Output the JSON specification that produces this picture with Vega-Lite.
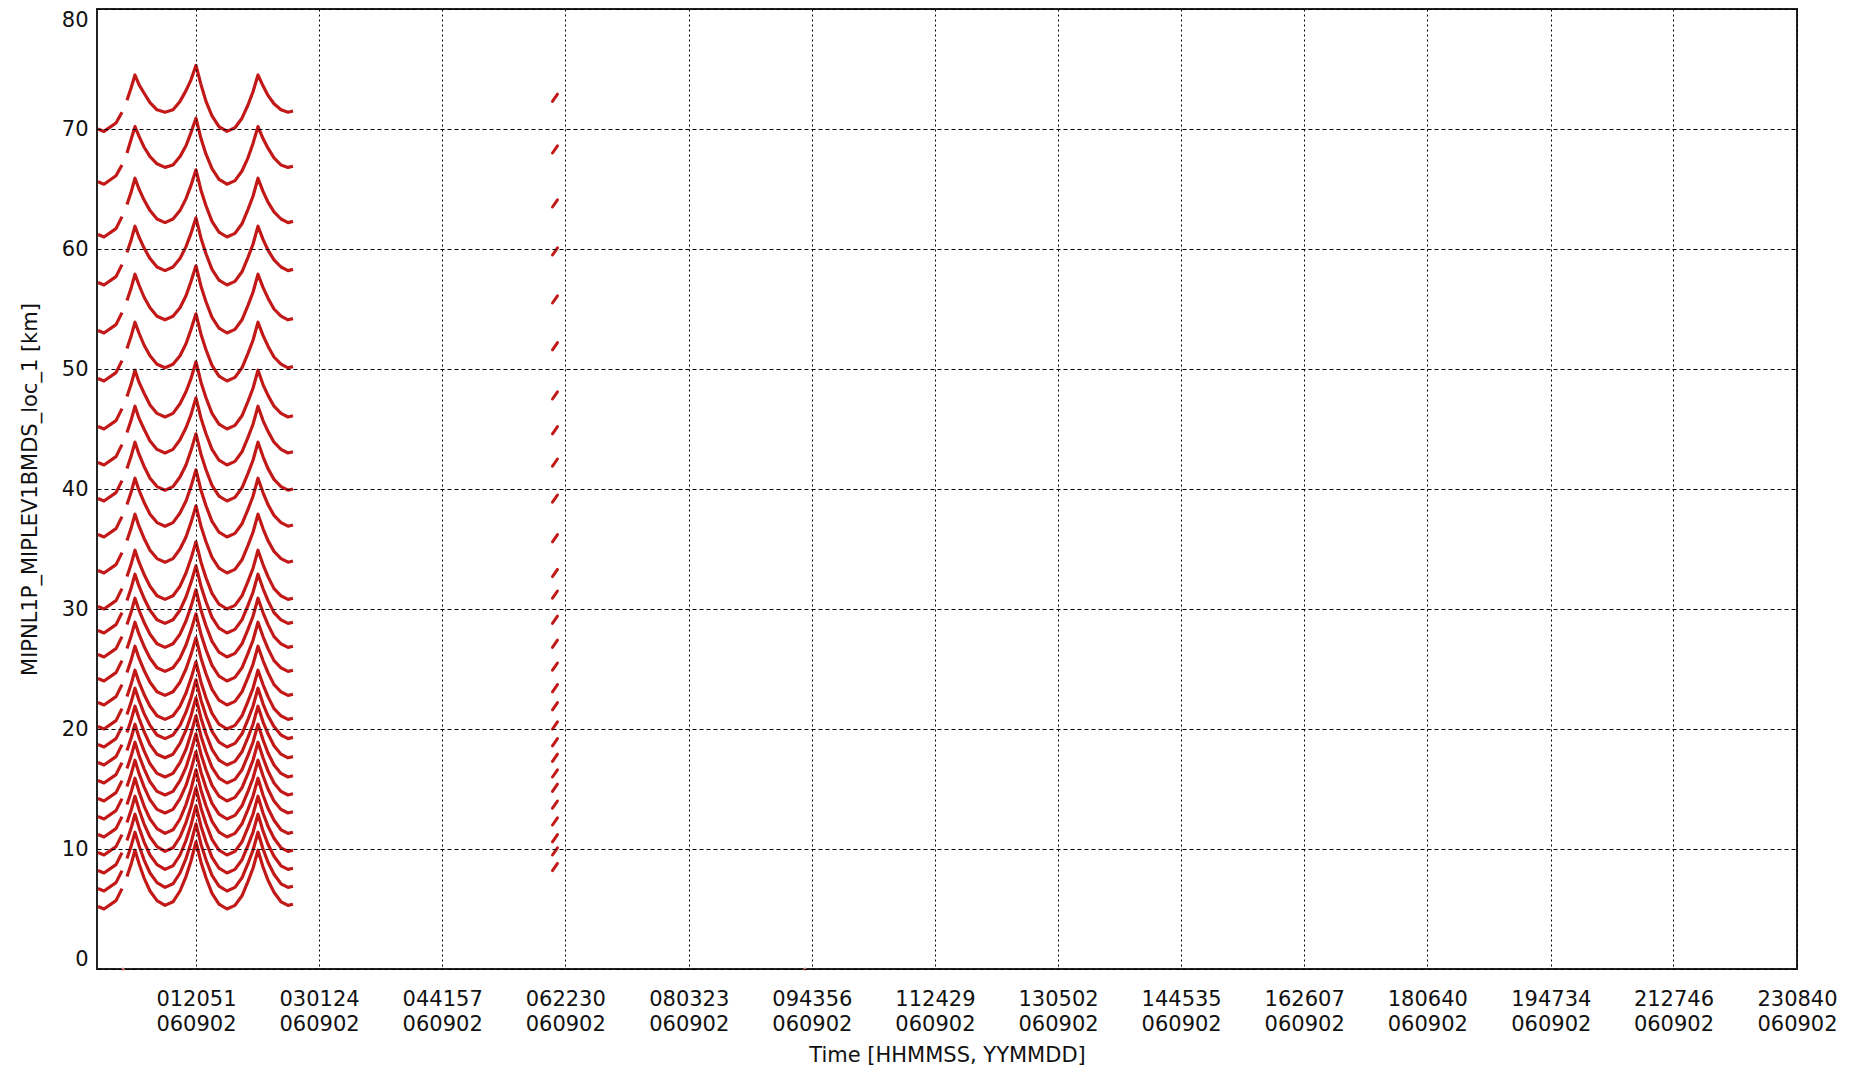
{
"$schema": "https://vega.github.io/schema/vega-lite/v6.json",
"width": 1700, "height": 960,
"autosize": "none",
"padding": {"left": 97, "top": 9, "right": 54, "bottom": 110},
"background": "white",
"config": {"view": {"stroke": "#222", "strokeWidth": 2}, "font": "DejaVu Sans"},
"datasets": {
"curves": [
{"k":1,"g":1,"t":49,"h":70.0},{"k":1,"g":1,"t":343,"h":69.8},{"k":1,"g":1,"t":931,"h":70.5},{"k":1,"g":1,"t":1225,"h":71.4},
{"k":1,"t":1470,"h":72.4},{"k":1,"t":1666,"h":73.4},{"k":1,"t":1862,"h":74.5},{"k":1,"t":2058,"h":73.7},{"k":1,"t":2303,"h":73.0},{"k":1,"t":2598,"h":72.2},{"k":1,"t":2941,"h":71.6},{"k":1,"t":3333,"h":71.4},{"k":1,"t":3725,"h":71.6},{"k":1,"t":4068,"h":72.3},{"k":1,"t":4362,"h":73.2},{"k":1,"t":4607,"h":74.1},{"k":1,"t":4851,"h":75.3},{"k":1,"t":5097,"h":73.7},{"k":1,"t":5342,"h":72.3},{"k":1,"t":5636,"h":71.1},{"k":1,"t":5979,"h":70.2},{"k":1,"t":6371,"h":69.8},{"k":1,"t":6763,"h":70.1},{"k":1,"t":7106,"h":70.9},{"k":1,"t":7401,"h":72.0},{"k":1,"t":7646,"h":73.1},{"k":1,"t":7891,"h":74.5},{"k":1,"t":8136,"h":73.6},{"k":1,"t":8381,"h":72.8},{"k":1,"t":8675,"h":72.1},{"k":1,"t":9018,"h":71.6},{"k":1,"t":9361,"h":71.4},{"k":1,"t":9606,"h":71.5},
{"k":2,"g":1,"t":49,"h":65.6},{"k":2,"g":1,"t":343,"h":65.4},{"k":2,"g":1,"t":931,"h":66.1},{"k":2,"g":1,"t":1225,"h":67.0},
{"k":2,"t":1470,"h":68.0},{"k":2,"t":1666,"h":69.1},{"k":2,"t":1862,"h":70.2},{"k":2,"t":2058,"h":69.4},{"k":2,"t":2303,"h":68.5},{"k":2,"t":2598,"h":67.7},{"k":2,"t":2941,"h":67.1},{"k":2,"t":3333,"h":66.8},{"k":2,"t":3725,"h":67.0},{"k":2,"t":4068,"h":67.7},{"k":2,"t":4362,"h":68.6},{"k":2,"t":4607,"h":69.7},{"k":2,"t":4851,"h":70.9},{"k":2,"t":5097,"h":69.2},{"k":2,"t":5342,"h":67.9},{"k":2,"t":5636,"h":66.7},{"k":2,"t":5979,"h":65.8},{"k":2,"t":6371,"h":65.4},{"k":2,"t":6763,"h":65.7},{"k":2,"t":7106,"h":66.5},{"k":2,"t":7401,"h":67.6},{"k":2,"t":7646,"h":68.8},{"k":2,"t":7891,"h":70.2},{"k":2,"t":8136,"h":69.2},{"k":2,"t":8381,"h":68.4},{"k":2,"t":8675,"h":67.6},{"k":2,"t":9018,"h":67.0},{"k":2,"t":9361,"h":66.8},{"k":2,"t":9606,"h":66.9},
{"k":3,"g":1,"t":49,"h":61.2},{"k":3,"g":1,"t":343,"h":61.0},{"k":3,"g":1,"t":931,"h":61.7},{"k":3,"g":1,"t":1225,"h":62.7},
{"k":3,"t":1470,"h":63.7},{"k":3,"t":1666,"h":64.7},{"k":3,"t":1862,"h":65.9},{"k":3,"t":2058,"h":65.0},{"k":3,"t":2303,"h":64.1},{"k":3,"t":2598,"h":63.2},{"k":3,"t":2941,"h":62.5},{"k":3,"t":3333,"h":62.2},{"k":3,"t":3725,"h":62.5},{"k":3,"t":4068,"h":63.2},{"k":3,"t":4362,"h":64.2},{"k":3,"t":4607,"h":65.3},{"k":3,"t":4851,"h":66.6},{"k":3,"t":5097,"h":64.9},{"k":3,"t":5342,"h":63.6},{"k":3,"t":5636,"h":62.3},{"k":3,"t":5979,"h":61.4},{"k":3,"t":6371,"h":61.0},{"k":3,"t":6763,"h":61.3},{"k":3,"t":7106,"h":62.1},{"k":3,"t":7401,"h":63.3},{"k":3,"t":7646,"h":64.4},{"k":3,"t":7891,"h":65.9},{"k":3,"t":8136,"h":64.8},{"k":3,"t":8381,"h":63.9},{"k":3,"t":8675,"h":63.1},{"k":3,"t":9018,"h":62.5},{"k":3,"t":9361,"h":62.2},{"k":3,"t":9606,"h":62.3},
{"k":4,"g":1,"t":49,"h":57.2},{"k":4,"g":1,"t":343,"h":57.0},{"k":4,"g":1,"t":931,"h":57.7},{"k":4,"g":1,"t":1225,"h":58.7},
{"k":4,"t":1470,"h":59.7},{"k":4,"t":1666,"h":60.7},{"k":4,"t":1862,"h":61.9},{"k":4,"t":2058,"h":61.0},{"k":4,"t":2303,"h":60.1},{"k":4,"t":2598,"h":59.2},{"k":4,"t":2941,"h":58.5},{"k":4,"t":3333,"h":58.2},{"k":4,"t":3725,"h":58.5},{"k":4,"t":4068,"h":59.2},{"k":4,"t":4362,"h":60.2},{"k":4,"t":4607,"h":61.3},{"k":4,"t":4851,"h":62.6},{"k":4,"t":5097,"h":60.9},{"k":4,"t":5342,"h":59.6},{"k":4,"t":5636,"h":58.3},{"k":4,"t":5979,"h":57.4},{"k":4,"t":6371,"h":57.0},{"k":4,"t":6763,"h":57.3},{"k":4,"t":7106,"h":58.1},{"k":4,"t":7401,"h":59.3},{"k":4,"t":7646,"h":60.4},{"k":4,"t":7891,"h":61.9},{"k":4,"t":8136,"h":60.8},{"k":4,"t":8381,"h":59.9},{"k":4,"t":8675,"h":59.1},{"k":4,"t":9018,"h":58.5},{"k":4,"t":9361,"h":58.2},{"k":4,"t":9606,"h":58.3},
{"k":5,"g":1,"t":49,"h":53.2},{"k":5,"g":1,"t":343,"h":53.0},{"k":5,"g":1,"t":931,"h":53.7},{"k":5,"g":1,"t":1225,"h":54.7},
{"k":5,"t":1470,"h":55.7},{"k":5,"t":1666,"h":56.7},{"k":5,"t":1862,"h":57.9},{"k":5,"t":2058,"h":57.0},{"k":5,"t":2303,"h":56.0},{"k":5,"t":2598,"h":55.1},{"k":5,"t":2941,"h":54.4},{"k":5,"t":3333,"h":54.1},{"k":5,"t":3725,"h":54.4},{"k":5,"t":4068,"h":55.1},{"k":5,"t":4362,"h":56.1},{"k":5,"t":4607,"h":57.3},{"k":5,"t":4851,"h":58.6},{"k":5,"t":5097,"h":56.9},{"k":5,"t":5342,"h":55.6},{"k":5,"t":5636,"h":54.3},{"k":5,"t":5979,"h":53.4},{"k":5,"t":6371,"h":53.0},{"k":5,"t":6763,"h":53.3},{"k":5,"t":7106,"h":54.1},{"k":5,"t":7401,"h":55.3},{"k":5,"t":7646,"h":56.4},{"k":5,"t":7891,"h":57.9},{"k":5,"t":8136,"h":56.8},{"k":5,"t":8381,"h":55.9},{"k":5,"t":8675,"h":55.0},{"k":5,"t":9018,"h":54.4},{"k":5,"t":9361,"h":54.1},{"k":5,"t":9606,"h":54.2},
{"k":6,"g":1,"t":49,"h":49.2},{"k":6,"g":1,"t":343,"h":49.0},{"k":6,"g":1,"t":931,"h":49.7},{"k":6,"g":1,"t":1225,"h":50.7},
{"k":6,"t":1470,"h":51.7},{"k":6,"t":1666,"h":52.7},{"k":6,"t":1862,"h":53.9},{"k":6,"t":2058,"h":53.0},{"k":6,"t":2303,"h":52.0},{"k":6,"t":2598,"h":51.1},{"k":6,"t":2941,"h":50.4},{"k":6,"t":3333,"h":50.1},{"k":6,"t":3725,"h":50.4},{"k":6,"t":4068,"h":51.1},{"k":6,"t":4362,"h":52.1},{"k":6,"t":4607,"h":53.3},{"k":6,"t":4851,"h":54.6},{"k":6,"t":5097,"h":52.9},{"k":6,"t":5342,"h":51.6},{"k":6,"t":5636,"h":50.3},{"k":6,"t":5979,"h":49.4},{"k":6,"t":6371,"h":49.0},{"k":6,"t":6763,"h":49.3},{"k":6,"t":7106,"h":50.1},{"k":6,"t":7401,"h":51.3},{"k":6,"t":7646,"h":52.4},{"k":6,"t":7891,"h":53.9},{"k":6,"t":8136,"h":52.8},{"k":6,"t":8381,"h":51.9},{"k":6,"t":8675,"h":51.0},{"k":6,"t":9018,"h":50.4},{"k":6,"t":9361,"h":50.1},{"k":6,"t":9606,"h":50.2},
{"k":7,"g":1,"t":49,"h":45.2},{"k":7,"g":1,"t":343,"h":45.0},{"k":7,"g":1,"t":931,"h":45.7},{"k":7,"g":1,"t":1225,"h":46.7},
{"k":7,"t":1470,"h":47.7},{"k":7,"t":1666,"h":48.7},{"k":7,"t":1862,"h":49.9},{"k":7,"t":2058,"h":48.9},{"k":7,"t":2303,"h":48.0},{"k":7,"t":2598,"h":47.0},{"k":7,"t":2941,"h":46.3},{"k":7,"t":3333,"h":46.0},{"k":7,"t":3725,"h":46.3},{"k":7,"t":4068,"h":47.1},{"k":7,"t":4362,"h":48.1},{"k":7,"t":4607,"h":49.2},{"k":7,"t":4851,"h":50.6},{"k":7,"t":5097,"h":48.9},{"k":7,"t":5342,"h":47.6},{"k":7,"t":5636,"h":46.3},{"k":7,"t":5979,"h":45.4},{"k":7,"t":6371,"h":45.0},{"k":7,"t":6763,"h":45.3},{"k":7,"t":7106,"h":46.1},{"k":7,"t":7401,"h":47.3},{"k":7,"t":7646,"h":48.4},{"k":7,"t":7891,"h":49.9},{"k":7,"t":8136,"h":48.7},{"k":7,"t":8381,"h":47.8},{"k":7,"t":8675,"h":46.9},{"k":7,"t":9018,"h":46.3},{"k":7,"t":9361,"h":46.0},{"k":7,"t":9606,"h":46.1},
{"k":8,"g":1,"t":49,"h":42.2},{"k":8,"g":1,"t":343,"h":42.0},{"k":8,"g":1,"t":931,"h":42.7},{"k":8,"g":1,"t":1225,"h":43.7},
{"k":8,"t":1470,"h":44.7},{"k":8,"t":1666,"h":45.7},{"k":8,"t":1862,"h":46.9},{"k":8,"t":2058,"h":45.9},{"k":8,"t":2303,"h":45.0},{"k":8,"t":2598,"h":44.0},{"k":8,"t":2941,"h":43.3},{"k":8,"t":3333,"h":43.0},{"k":8,"t":3725,"h":43.3},{"k":8,"t":4068,"h":44.1},{"k":8,"t":4362,"h":45.1},{"k":8,"t":4607,"h":46.2},{"k":8,"t":4851,"h":47.6},{"k":8,"t":5097,"h":45.9},{"k":8,"t":5342,"h":44.6},{"k":8,"t":5636,"h":43.3},{"k":8,"t":5979,"h":42.4},{"k":8,"t":6371,"h":42.0},{"k":8,"t":6763,"h":42.3},{"k":8,"t":7106,"h":43.1},{"k":8,"t":7401,"h":44.3},{"k":8,"t":7646,"h":45.4},{"k":8,"t":7891,"h":46.9},{"k":8,"t":8136,"h":45.7},{"k":8,"t":8381,"h":44.8},{"k":8,"t":8675,"h":43.9},{"k":8,"t":9018,"h":43.3},{"k":8,"t":9361,"h":43.0},{"k":8,"t":9606,"h":43.1},
{"k":9,"g":1,"t":49,"h":39.2},{"k":9,"g":1,"t":343,"h":39.0},{"k":9,"g":1,"t":931,"h":39.7},{"k":9,"g":1,"t":1225,"h":40.7},
{"k":9,"t":1470,"h":41.7},{"k":9,"t":1666,"h":42.7},{"k":9,"t":1862,"h":43.9},{"k":9,"t":2058,"h":42.9},{"k":9,"t":2303,"h":41.9},{"k":9,"t":2598,"h":40.9},{"k":9,"t":2941,"h":40.2},{"k":9,"t":3333,"h":39.9},{"k":9,"t":3725,"h":40.2},{"k":9,"t":4068,"h":41.0},{"k":9,"t":4362,"h":42.0},{"k":9,"t":4607,"h":43.2},{"k":9,"t":4851,"h":44.6},{"k":9,"t":5097,"h":42.9},{"k":9,"t":5342,"h":41.6},{"k":9,"t":5636,"h":40.3},{"k":9,"t":5979,"h":39.4},{"k":9,"t":6371,"h":39.0},{"k":9,"t":6763,"h":39.3},{"k":9,"t":7106,"h":40.1},{"k":9,"t":7401,"h":41.3},{"k":9,"t":7646,"h":42.4},{"k":9,"t":7891,"h":43.9},{"k":9,"t":8136,"h":42.7},{"k":9,"t":8381,"h":41.7},{"k":9,"t":8675,"h":40.8},{"k":9,"t":9018,"h":40.2},{"k":9,"t":9361,"h":39.9},{"k":9,"t":9606,"h":40.0},
{"k":10,"g":1,"t":49,"h":36.2},{"k":10,"g":1,"t":343,"h":36.0},{"k":10,"g":1,"t":931,"h":36.7},{"k":10,"g":1,"t":1225,"h":37.7},
{"k":10,"t":1470,"h":38.7},{"k":10,"t":1666,"h":39.7},{"k":10,"t":1862,"h":40.9},{"k":10,"t":2058,"h":39.9},{"k":10,"t":2303,"h":38.9},{"k":10,"t":2598,"h":37.9},{"k":10,"t":2941,"h":37.2},{"k":10,"t":3333,"h":36.9},{"k":10,"t":3725,"h":37.2},{"k":10,"t":4068,"h":38.0},{"k":10,"t":4362,"h":39.0},{"k":10,"t":4607,"h":40.2},{"k":10,"t":4851,"h":41.6},{"k":10,"t":5097,"h":39.9},{"k":10,"t":5342,"h":38.6},{"k":10,"t":5636,"h":37.3},{"k":10,"t":5979,"h":36.4},{"k":10,"t":6371,"h":36.0},{"k":10,"t":6763,"h":36.3},{"k":10,"t":7106,"h":37.1},{"k":10,"t":7401,"h":38.3},{"k":10,"t":7646,"h":39.4},{"k":10,"t":7891,"h":40.9},{"k":10,"t":8136,"h":39.7},{"k":10,"t":8381,"h":38.7},{"k":10,"t":8675,"h":37.8},{"k":10,"t":9018,"h":37.2},{"k":10,"t":9361,"h":36.9},{"k":10,"t":9606,"h":37.0},
{"k":11,"g":1,"t":49,"h":33.2},{"k":11,"g":1,"t":343,"h":33.0},{"k":11,"g":1,"t":931,"h":33.7},{"k":11,"g":1,"t":1225,"h":34.7},
{"k":11,"t":1470,"h":35.7},{"k":11,"t":1666,"h":36.7},{"k":11,"t":1862,"h":37.9},{"k":11,"t":2058,"h":36.9},{"k":11,"t":2303,"h":35.9},{"k":11,"t":2598,"h":34.9},{"k":11,"t":2941,"h":34.2},{"k":11,"t":3333,"h":33.9},{"k":11,"t":3725,"h":34.2},{"k":11,"t":4068,"h":35.0},{"k":11,"t":4362,"h":36.0},{"k":11,"t":4607,"h":37.2},{"k":11,"t":4851,"h":38.6},{"k":11,"t":5097,"h":36.9},{"k":11,"t":5342,"h":35.6},{"k":11,"t":5636,"h":34.3},{"k":11,"t":5979,"h":33.4},{"k":11,"t":6371,"h":33.0},{"k":11,"t":6763,"h":33.3},{"k":11,"t":7106,"h":34.1},{"k":11,"t":7401,"h":35.3},{"k":11,"t":7646,"h":36.4},{"k":11,"t":7891,"h":37.9},{"k":11,"t":8136,"h":36.7},{"k":11,"t":8381,"h":35.7},{"k":11,"t":8675,"h":34.8},{"k":11,"t":9018,"h":34.2},{"k":11,"t":9361,"h":33.9},{"k":11,"t":9606,"h":34.0},
{"k":12,"g":1,"t":49,"h":30.2},{"k":12,"g":1,"t":343,"h":30.0},{"k":12,"g":1,"t":931,"h":30.7},{"k":12,"g":1,"t":1225,"h":31.7},
{"k":12,"t":1470,"h":32.7},{"k":12,"t":1666,"h":33.7},{"k":12,"t":1862,"h":34.9},{"k":12,"t":2058,"h":33.9},{"k":12,"t":2303,"h":32.9},{"k":12,"t":2598,"h":31.9},{"k":12,"t":2941,"h":31.1},{"k":12,"t":3333,"h":30.8},{"k":12,"t":3725,"h":31.1},{"k":12,"t":4068,"h":31.9},{"k":12,"t":4362,"h":33.0},{"k":12,"t":4607,"h":34.2},{"k":12,"t":4851,"h":35.6},{"k":12,"t":5097,"h":33.9},{"k":12,"t":5342,"h":32.6},{"k":12,"t":5636,"h":31.3},{"k":12,"t":5979,"h":30.4},{"k":12,"t":6371,"h":30.0},{"k":12,"t":6763,"h":30.3},{"k":12,"t":7106,"h":31.1},{"k":12,"t":7401,"h":32.3},{"k":12,"t":7646,"h":33.4},{"k":12,"t":7891,"h":34.9},{"k":12,"t":8136,"h":33.7},{"k":12,"t":8381,"h":32.7},{"k":12,"t":8675,"h":31.7},{"k":12,"t":9018,"h":31.1},{"k":12,"t":9361,"h":30.8},{"k":12,"t":9606,"h":30.9},
{"k":13,"g":1,"t":49,"h":28.2},{"k":13,"g":1,"t":343,"h":28.0},{"k":13,"g":1,"t":931,"h":28.7},{"k":13,"g":1,"t":1225,"h":29.7},
{"k":13,"t":1470,"h":30.7},{"k":13,"t":1666,"h":31.7},{"k":13,"t":1862,"h":32.9},{"k":13,"t":2058,"h":31.9},{"k":13,"t":2303,"h":30.9},{"k":13,"t":2598,"h":29.9},{"k":13,"t":2941,"h":29.1},{"k":13,"t":3333,"h":28.8},{"k":13,"t":3725,"h":29.1},{"k":13,"t":4068,"h":29.9},{"k":13,"t":4362,"h":31.0},{"k":13,"t":4607,"h":32.2},{"k":13,"t":4851,"h":33.6},{"k":13,"t":5097,"h":31.9},{"k":13,"t":5342,"h":30.6},{"k":13,"t":5636,"h":29.3},{"k":13,"t":5979,"h":28.4},{"k":13,"t":6371,"h":28.0},{"k":13,"t":6763,"h":28.3},{"k":13,"t":7106,"h":29.1},{"k":13,"t":7401,"h":30.3},{"k":13,"t":7646,"h":31.4},{"k":13,"t":7891,"h":32.9},{"k":13,"t":8136,"h":31.7},{"k":13,"t":8381,"h":30.7},{"k":13,"t":8675,"h":29.7},{"k":13,"t":9018,"h":29.1},{"k":13,"t":9361,"h":28.8},{"k":13,"t":9606,"h":28.9},
{"k":14,"g":1,"t":49,"h":26.2},{"k":14,"g":1,"t":343,"h":26.0},{"k":14,"g":1,"t":931,"h":26.7},{"k":14,"g":1,"t":1225,"h":27.7},
{"k":14,"t":1470,"h":28.7},{"k":14,"t":1666,"h":29.7},{"k":14,"t":1862,"h":30.9},{"k":14,"t":2058,"h":29.9},{"k":14,"t":2303,"h":28.9},{"k":14,"t":2598,"h":27.9},{"k":14,"t":2941,"h":27.1},{"k":14,"t":3333,"h":26.8},{"k":14,"t":3725,"h":27.1},{"k":14,"t":4068,"h":27.9},{"k":14,"t":4362,"h":29.0},{"k":14,"t":4607,"h":30.2},{"k":14,"t":4851,"h":31.6},{"k":14,"t":5097,"h":29.9},{"k":14,"t":5342,"h":28.6},{"k":14,"t":5636,"h":27.3},{"k":14,"t":5979,"h":26.4},{"k":14,"t":6371,"h":26.0},{"k":14,"t":6763,"h":26.3},{"k":14,"t":7106,"h":27.1},{"k":14,"t":7401,"h":28.3},{"k":14,"t":7646,"h":29.4},{"k":14,"t":7891,"h":30.9},{"k":14,"t":8136,"h":29.7},{"k":14,"t":8381,"h":28.7},{"k":14,"t":8675,"h":27.7},{"k":14,"t":9018,"h":27.1},{"k":14,"t":9361,"h":26.8},{"k":14,"t":9606,"h":26.9},
{"k":15,"g":1,"t":49,"h":24.2},{"k":15,"g":1,"t":343,"h":24.0},{"k":15,"g":1,"t":931,"h":24.7},{"k":15,"g":1,"t":1225,"h":25.7},
{"k":15,"t":1470,"h":26.7},{"k":15,"t":1666,"h":27.7},{"k":15,"t":1862,"h":28.9},{"k":15,"t":2058,"h":27.9},{"k":15,"t":2303,"h":26.9},{"k":15,"t":2598,"h":25.9},{"k":15,"t":2941,"h":25.1},{"k":15,"t":3333,"h":24.8},{"k":15,"t":3725,"h":25.1},{"k":15,"t":4068,"h":25.9},{"k":15,"t":4362,"h":27.0},{"k":15,"t":4607,"h":28.2},{"k":15,"t":4851,"h":29.6},{"k":15,"t":5097,"h":27.9},{"k":15,"t":5342,"h":26.6},{"k":15,"t":5636,"h":25.3},{"k":15,"t":5979,"h":24.4},{"k":15,"t":6371,"h":24.0},{"k":15,"t":6763,"h":24.3},{"k":15,"t":7106,"h":25.1},{"k":15,"t":7401,"h":26.3},{"k":15,"t":7646,"h":27.4},{"k":15,"t":7891,"h":28.9},{"k":15,"t":8136,"h":27.7},{"k":15,"t":8381,"h":26.7},{"k":15,"t":8675,"h":25.7},{"k":15,"t":9018,"h":25.1},{"k":15,"t":9361,"h":24.8},{"k":15,"t":9606,"h":24.9},
{"k":16,"g":1,"t":49,"h":22.2},{"k":16,"g":1,"t":343,"h":22.0},{"k":16,"g":1,"t":931,"h":22.7},{"k":16,"g":1,"t":1225,"h":23.7},
{"k":16,"t":1470,"h":24.7},{"k":16,"t":1666,"h":25.7},{"k":16,"t":1862,"h":26.9},{"k":16,"t":2058,"h":25.9},{"k":16,"t":2303,"h":24.9},{"k":16,"t":2598,"h":23.9},{"k":16,"t":2941,"h":23.1},{"k":16,"t":3333,"h":22.8},{"k":16,"t":3725,"h":23.1},{"k":16,"t":4068,"h":23.9},{"k":16,"t":4362,"h":25.0},{"k":16,"t":4607,"h":26.2},{"k":16,"t":4851,"h":27.6},{"k":16,"t":5097,"h":25.9},{"k":16,"t":5342,"h":24.6},{"k":16,"t":5636,"h":23.3},{"k":16,"t":5979,"h":22.4},{"k":16,"t":6371,"h":22.0},{"k":16,"t":6763,"h":22.3},{"k":16,"t":7106,"h":23.1},{"k":16,"t":7401,"h":24.3},{"k":16,"t":7646,"h":25.4},{"k":16,"t":7891,"h":26.9},{"k":16,"t":8136,"h":25.7},{"k":16,"t":8381,"h":24.7},{"k":16,"t":8675,"h":23.7},{"k":16,"t":9018,"h":23.1},{"k":16,"t":9361,"h":22.8},{"k":16,"t":9606,"h":22.9},
{"k":17,"g":1,"t":49,"h":20.2},{"k":17,"g":1,"t":343,"h":20.0},{"k":17,"g":1,"t":931,"h":20.7},{"k":17,"g":1,"t":1225,"h":21.7},
{"k":17,"t":1470,"h":22.7},{"k":17,"t":1666,"h":23.7},{"k":17,"t":1862,"h":24.9},{"k":17,"t":2058,"h":23.9},{"k":17,"t":2303,"h":22.9},{"k":17,"t":2598,"h":21.9},{"k":17,"t":2941,"h":21.1},{"k":17,"t":3333,"h":20.8},{"k":17,"t":3725,"h":21.1},{"k":17,"t":4068,"h":21.9},{"k":17,"t":4362,"h":23.0},{"k":17,"t":4607,"h":24.2},{"k":17,"t":4851,"h":25.6},{"k":17,"t":5097,"h":23.9},{"k":17,"t":5342,"h":22.6},{"k":17,"t":5636,"h":21.3},{"k":17,"t":5979,"h":20.4},{"k":17,"t":6371,"h":20.0},{"k":17,"t":6763,"h":20.3},{"k":17,"t":7106,"h":21.1},{"k":17,"t":7401,"h":22.3},{"k":17,"t":7646,"h":23.4},{"k":17,"t":7891,"h":24.9},{"k":17,"t":8136,"h":23.7},{"k":17,"t":8381,"h":22.7},{"k":17,"t":8675,"h":21.7},{"k":17,"t":9018,"h":21.1},{"k":17,"t":9361,"h":20.8},{"k":17,"t":9606,"h":20.9},
{"k":18,"g":1,"t":49,"h":18.7},{"k":18,"g":1,"t":343,"h":18.5},{"k":18,"g":1,"t":931,"h":19.2},{"k":18,"g":1,"t":1225,"h":20.2},
{"k":18,"t":1470,"h":21.2},{"k":18,"t":1666,"h":22.2},{"k":18,"t":1862,"h":23.4},{"k":18,"t":2058,"h":22.4},{"k":18,"t":2303,"h":21.3},{"k":18,"t":2598,"h":20.3},{"k":18,"t":2941,"h":19.5},{"k":18,"t":3333,"h":19.2},{"k":18,"t":3725,"h":19.5},{"k":18,"t":4068,"h":20.3},{"k":18,"t":4362,"h":21.4},{"k":18,"t":4607,"h":22.6},{"k":18,"t":4851,"h":24.1},{"k":18,"t":5097,"h":22.4},{"k":18,"t":5342,"h":21.1},{"k":18,"t":5636,"h":19.8},{"k":18,"t":5979,"h":18.9},{"k":18,"t":6371,"h":18.5},{"k":18,"t":6763,"h":18.8},{"k":18,"t":7106,"h":19.6},{"k":18,"t":7401,"h":20.8},{"k":18,"t":7646,"h":21.9},{"k":18,"t":7891,"h":23.4},{"k":18,"t":8136,"h":22.1},{"k":18,"t":8381,"h":21.1},{"k":18,"t":8675,"h":20.2},{"k":18,"t":9018,"h":19.5},{"k":18,"t":9361,"h":19.2},{"k":18,"t":9606,"h":19.3},
{"k":19,"g":1,"t":49,"h":17.2},{"k":19,"g":1,"t":343,"h":17.0},{"k":19,"g":1,"t":931,"h":17.7},{"k":19,"g":1,"t":1225,"h":18.7},
{"k":19,"t":1470,"h":19.7},{"k":19,"t":1666,"h":20.7},{"k":19,"t":1862,"h":21.9},{"k":19,"t":2058,"h":20.9},{"k":19,"t":2303,"h":19.8},{"k":19,"t":2598,"h":18.7},{"k":19,"t":2941,"h":17.9},{"k":19,"t":3333,"h":17.6},{"k":19,"t":3725,"h":17.9},{"k":19,"t":4068,"h":18.8},{"k":19,"t":4362,"h":19.9},{"k":19,"t":4607,"h":21.1},{"k":19,"t":4851,"h":22.6},{"k":19,"t":5097,"h":20.9},{"k":19,"t":5342,"h":19.6},{"k":19,"t":5636,"h":18.3},{"k":19,"t":5979,"h":17.4},{"k":19,"t":6371,"h":17.0},{"k":19,"t":6763,"h":17.3},{"k":19,"t":7106,"h":18.1},{"k":19,"t":7401,"h":19.3},{"k":19,"t":7646,"h":20.4},{"k":19,"t":7891,"h":21.9},{"k":19,"t":8136,"h":20.6},{"k":19,"t":8381,"h":19.6},{"k":19,"t":8675,"h":18.6},{"k":19,"t":9018,"h":17.9},{"k":19,"t":9361,"h":17.6},{"k":19,"t":9606,"h":17.7},
{"k":20,"g":1,"t":49,"h":15.7},{"k":20,"g":1,"t":343,"h":15.5},{"k":20,"g":1,"t":931,"h":16.2},{"k":20,"g":1,"t":1225,"h":17.2},
{"k":20,"t":1470,"h":18.2},{"k":20,"t":1666,"h":19.2},{"k":20,"t":1862,"h":20.4},{"k":20,"t":2058,"h":19.3},{"k":20,"t":2303,"h":18.2},{"k":20,"t":2598,"h":17.1},{"k":20,"t":2941,"h":16.3},{"k":20,"t":3333,"h":16.0},{"k":20,"t":3725,"h":16.3},{"k":20,"t":4068,"h":17.2},{"k":20,"t":4362,"h":18.3},{"k":20,"t":4607,"h":19.6},{"k":20,"t":4851,"h":21.1},{"k":20,"t":5097,"h":19.4},{"k":20,"t":5342,"h":18.1},{"k":20,"t":5636,"h":16.8},{"k":20,"t":5979,"h":15.9},{"k":20,"t":6371,"h":15.5},{"k":20,"t":6763,"h":15.8},{"k":20,"t":7106,"h":16.6},{"k":20,"t":7401,"h":17.8},{"k":20,"t":7646,"h":18.9},{"k":20,"t":7891,"h":20.4},{"k":20,"t":8136,"h":19.1},{"k":20,"t":8381,"h":18.0},{"k":20,"t":8675,"h":17.0},{"k":20,"t":9018,"h":16.3},{"k":20,"t":9361,"h":16.0},{"k":20,"t":9606,"h":16.1},
{"k":21,"g":1,"t":49,"h":14.2},{"k":21,"g":1,"t":343,"h":14.0},{"k":21,"g":1,"t":931,"h":14.7},{"k":21,"g":1,"t":1225,"h":15.7},
{"k":21,"t":1470,"h":16.7},{"k":21,"t":1666,"h":17.7},{"k":21,"t":1862,"h":18.9},{"k":21,"t":2058,"h":17.8},{"k":21,"t":2303,"h":16.7},{"k":21,"t":2598,"h":15.6},{"k":21,"t":2941,"h":14.8},{"k":21,"t":3333,"h":14.5},{"k":21,"t":3725,"h":14.8},{"k":21,"t":4068,"h":15.7},{"k":21,"t":4362,"h":16.8},{"k":21,"t":4607,"h":18.1},{"k":21,"t":4851,"h":19.6},{"k":21,"t":5097,"h":17.9},{"k":21,"t":5342,"h":16.6},{"k":21,"t":5636,"h":15.3},{"k":21,"t":5979,"h":14.4},{"k":21,"t":6371,"h":14.0},{"k":21,"t":6763,"h":14.3},{"k":21,"t":7106,"h":15.1},{"k":21,"t":7401,"h":16.3},{"k":21,"t":7646,"h":17.4},{"k":21,"t":7891,"h":18.9},{"k":21,"t":8136,"h":17.6},{"k":21,"t":8381,"h":16.5},{"k":21,"t":8675,"h":15.5},{"k":21,"t":9018,"h":14.8},{"k":21,"t":9361,"h":14.5},{"k":21,"t":9606,"h":14.6},
{"k":22,"g":1,"t":49,"h":12.7},{"k":22,"g":1,"t":343,"h":12.5},{"k":22,"g":1,"t":931,"h":13.2},{"k":22,"g":1,"t":1225,"h":14.2},
{"k":22,"t":1470,"h":15.2},{"k":22,"t":1666,"h":16.2},{"k":22,"t":1862,"h":17.4},{"k":22,"t":2058,"h":16.3},{"k":22,"t":2303,"h":15.2},{"k":22,"t":2598,"h":14.1},{"k":22,"t":2941,"h":13.3},{"k":22,"t":3333,"h":13.0},{"k":22,"t":3725,"h":13.3},{"k":22,"t":4068,"h":14.2},{"k":22,"t":4362,"h":15.3},{"k":22,"t":4607,"h":16.6},{"k":22,"t":4851,"h":18.1},{"k":22,"t":5097,"h":16.4},{"k":22,"t":5342,"h":15.1},{"k":22,"t":5636,"h":13.8},{"k":22,"t":5979,"h":12.9},{"k":22,"t":6371,"h":12.5},{"k":22,"t":6763,"h":12.8},{"k":22,"t":7106,"h":13.6},{"k":22,"t":7401,"h":14.8},{"k":22,"t":7646,"h":15.9},{"k":22,"t":7891,"h":17.4},{"k":22,"t":8136,"h":16.1},{"k":22,"t":8381,"h":15.0},{"k":22,"t":8675,"h":14.0},{"k":22,"t":9018,"h":13.3},{"k":22,"t":9361,"h":13.0},{"k":22,"t":9606,"h":13.1},
{"k":23,"g":1,"t":49,"h":11.2},{"k":23,"g":1,"t":343,"h":11.0},{"k":23,"g":1,"t":931,"h":11.7},{"k":23,"g":1,"t":1225,"h":12.7},
{"k":23,"t":1470,"h":13.7},{"k":23,"t":1666,"h":14.7},{"k":23,"t":1862,"h":15.9},{"k":23,"t":2058,"h":14.8},{"k":23,"t":2303,"h":13.6},{"k":23,"t":2598,"h":12.5},{"k":23,"t":2941,"h":11.7},{"k":23,"t":3333,"h":11.3},{"k":23,"t":3725,"h":11.6},{"k":23,"t":4068,"h":12.5},{"k":23,"t":4362,"h":13.7},{"k":23,"t":4607,"h":15.0},{"k":23,"t":4851,"h":16.6},{"k":23,"t":5097,"h":14.9},{"k":23,"t":5342,"h":13.6},{"k":23,"t":5636,"h":12.3},{"k":23,"t":5979,"h":11.4},{"k":23,"t":6371,"h":11.0},{"k":23,"t":6763,"h":11.3},{"k":23,"t":7106,"h":12.1},{"k":23,"t":7401,"h":13.3},{"k":23,"t":7646,"h":14.4},{"k":23,"t":7891,"h":15.9},{"k":23,"t":8136,"h":14.5},{"k":23,"t":8381,"h":13.4},{"k":23,"t":8675,"h":12.4},{"k":23,"t":9018,"h":11.6},{"k":23,"t":9361,"h":11.3},{"k":23,"t":9606,"h":11.4},
{"k":24,"g":1,"t":49,"h":9.7},{"k":24,"g":1,"t":343,"h":9.5},{"k":24,"g":1,"t":931,"h":10.2},{"k":24,"g":1,"t":1225,"h":11.2},
{"k":24,"t":1470,"h":12.2},{"k":24,"t":1666,"h":13.2},{"k":24,"t":1862,"h":14.4},{"k":24,"t":2058,"h":13.3},{"k":24,"t":2303,"h":12.1},{"k":24,"t":2598,"h":11.0},{"k":24,"t":2941,"h":10.2},{"k":24,"t":3333,"h":9.8},{"k":24,"t":3725,"h":10.1},{"k":24,"t":4068,"h":11.0},{"k":24,"t":4362,"h":12.2},{"k":24,"t":4607,"h":13.5},{"k":24,"t":4851,"h":15.1},{"k":24,"t":5097,"h":13.4},{"k":24,"t":5342,"h":12.1},{"k":24,"t":5636,"h":10.8},{"k":24,"t":5979,"h":9.9},{"k":24,"t":6371,"h":9.5},{"k":24,"t":6763,"h":9.8},{"k":24,"t":7106,"h":10.6},{"k":24,"t":7401,"h":11.8},{"k":24,"t":7646,"h":12.9},{"k":24,"t":7891,"h":14.4},{"k":24,"t":8136,"h":13.0},{"k":24,"t":8381,"h":11.9},{"k":24,"t":8675,"h":10.9},{"k":24,"t":9018,"h":10.1},{"k":24,"t":9361,"h":9.8},{"k":24,"t":9606,"h":9.9},
{"k":25,"g":1,"t":49,"h":8.2},{"k":25,"g":1,"t":343,"h":8.0},{"k":25,"g":1,"t":931,"h":8.7},{"k":25,"g":1,"t":1225,"h":9.7},
{"k":25,"t":1470,"h":10.7},{"k":25,"t":1666,"h":11.7},{"k":25,"t":1862,"h":12.9},{"k":25,"t":2058,"h":11.8},{"k":25,"t":2303,"h":10.6},{"k":25,"t":2598,"h":9.5},{"k":25,"t":2941,"h":8.7},{"k":25,"t":3333,"h":8.3},{"k":25,"t":3725,"h":8.6},{"k":25,"t":4068,"h":9.5},{"k":25,"t":4362,"h":10.7},{"k":25,"t":4607,"h":12.0},{"k":25,"t":4851,"h":13.6},{"k":25,"t":5097,"h":11.9},{"k":25,"t":5342,"h":10.6},{"k":25,"t":5636,"h":9.3},{"k":25,"t":5979,"h":8.4},{"k":25,"t":6371,"h":8.0},{"k":25,"t":6763,"h":8.3},{"k":25,"t":7106,"h":9.1},{"k":25,"t":7401,"h":10.3},{"k":25,"t":7646,"h":11.4},{"k":25,"t":7891,"h":12.9},{"k":25,"t":8136,"h":11.5},{"k":25,"t":8381,"h":10.4},{"k":25,"t":8675,"h":9.4},{"k":25,"t":9018,"h":8.6},{"k":25,"t":9361,"h":8.3},{"k":25,"t":9606,"h":8.4},
{"k":26,"g":1,"t":49,"h":6.7},{"k":26,"g":1,"t":343,"h":6.5},{"k":26,"g":1,"t":931,"h":7.2},{"k":26,"g":1,"t":1225,"h":8.2},
{"k":26,"t":1470,"h":9.2},{"k":26,"t":1666,"h":10.2},{"k":26,"t":1862,"h":11.4},{"k":26,"t":2058,"h":10.3},{"k":26,"t":2303,"h":9.1},{"k":26,"t":2598,"h":8.0},{"k":26,"t":2941,"h":7.2},{"k":26,"t":3333,"h":6.8},{"k":26,"t":3725,"h":7.1},{"k":26,"t":4068,"h":8.0},{"k":26,"t":4362,"h":9.2},{"k":26,"t":4607,"h":10.5},{"k":26,"t":4851,"h":12.1},{"k":26,"t":5097,"h":10.4},{"k":26,"t":5342,"h":9.1},{"k":26,"t":5636,"h":7.8},{"k":26,"t":5979,"h":6.9},{"k":26,"t":6371,"h":6.5},{"k":26,"t":6763,"h":6.8},{"k":26,"t":7106,"h":7.6},{"k":26,"t":7401,"h":8.8},{"k":26,"t":7646,"h":9.9},{"k":26,"t":7891,"h":11.4},{"k":26,"t":8136,"h":10.0},{"k":26,"t":8381,"h":8.9},{"k":26,"t":8675,"h":7.9},{"k":26,"t":9018,"h":7.1},{"k":26,"t":9361,"h":6.8},{"k":26,"t":9606,"h":6.9},
{"k":27,"g":1,"t":49,"h":5.2},{"k":27,"g":1,"t":343,"h":5.0},{"k":27,"g":1,"t":931,"h":5.7},{"k":27,"g":1,"t":1225,"h":6.7},
{"k":27,"t":1470,"h":7.7},{"k":27,"t":1666,"h":8.7},{"k":27,"t":1862,"h":9.9},{"k":27,"t":2058,"h":8.8},{"k":27,"t":2303,"h":7.6},{"k":27,"t":2598,"h":6.5},{"k":27,"t":2941,"h":5.7},{"k":27,"t":3333,"h":5.3},{"k":27,"t":3725,"h":5.6},{"k":27,"t":4068,"h":6.5},{"k":27,"t":4362,"h":7.7},{"k":27,"t":4607,"h":9.0},{"k":27,"t":4851,"h":10.6},{"k":27,"t":5097,"h":8.9},{"k":27,"t":5342,"h":7.6},{"k":27,"t":5636,"h":6.3},{"k":27,"t":5979,"h":5.4},{"k":27,"t":6371,"h":5.0},{"k":27,"t":6763,"h":5.3},{"k":27,"t":7106,"h":6.1},{"k":27,"t":7401,"h":7.3},{"k":27,"t":7646,"h":8.4},{"k":27,"t":7891,"h":9.9},{"k":27,"t":8136,"h":8.5},{"k":27,"t":8381,"h":7.4},{"k":27,"t":8675,"h":6.4},{"k":27,"t":9018,"h":5.6},{"k":27,"t":9361,"h":5.3},{"k":27,"t":9606,"h":5.4}
],
"dashes": [
{"t":22324,"t2":22569,"h":72.3,"h2":72.9},{"t":22324,"t2":22569,"h":68.0,"h2":68.6},{"t":22324,"t2":22569,"h":63.5,"h2":64.1},{"t":22324,"t2":22569,"h":59.5,"h2":60.1},
{"t":22324,"t2":22569,"h":55.5,"h2":56.1},{"t":22324,"t2":22569,"h":51.6,"h2":52.2},{"t":22324,"t2":22569,"h":47.5,"h2":48.1},{"t":22324,"t2":22569,"h":44.6,"h2":45.2},
{"t":22324,"t2":22569,"h":41.9,"h2":42.5},{"t":22324,"t2":22569,"h":38.9,"h2":39.5},{"t":22324,"t2":22569,"h":35.6,"h2":36.2},{"t":22324,"t2":22569,"h":32.7,"h2":33.3},
{"t":22324,"t2":22569,"h":30.9,"h2":31.5},{"t":22324,"t2":22569,"h":28.8,"h2":29.4},{"t":22324,"t2":22569,"h":26.8,"h2":27.4},{"t":22324,"t2":22569,"h":24.9,"h2":25.5},
{"t":22324,"t2":22569,"h":23.1,"h2":23.7},{"t":22324,"t2":22569,"h":21.6,"h2":22.2},{"t":22324,"t2":22569,"h":20.0,"h2":20.6},{"t":22324,"t2":22569,"h":18.6,"h2":19.2},
{"t":22324,"t2":22569,"h":17.3,"h2":17.9},{"t":22324,"t2":22569,"h":16.0,"h2":16.6},{"t":22324,"t2":22569,"h":14.8,"h2":15.4},{"t":22324,"t2":22569,"h":13.4,"h2":14.0},
{"t":22324,"t2":22569,"h":12.0,"h2":12.6},{"t":22324,"t2":22569,"h":10.6,"h2":11.2},{"t":22324,"t2":22569,"h":9.5,"h2":10.1},{"t":22324,"t2":22569,"h":8.2,"h2":8.8}
],
"zeros": [{"t":1274,"h":0},{"t":34700,"h":0}]
},
"layer": [
{
"data": {"name": "curves"},
"mark": {"type": "line", "color": "#c21818", "strokeWidth": 3.2, "strokeJoin": "round"},
"encoding": {
"x": {"field": "t", "type": "quantitative",
"scale": {"domain": [0, 83320], "nice": false, "zero": false},
"axis": {"title": "Time [HHMMSS, YYMMDD]",
"values": [4851, 10884, 16917, 22950, 29003, 35036, 41069, 47102, 53135, 59167, 65200, 71254, 77266, 83320],
"labelExpr": "[utcFormat(datum.value*1000, '%H%M%S'), '060902']",
"grid": true, "gridColor": "#000", "gridDash": [2, 3], "gridWidth": 1, "gridOpacity": 1,
"ticks": false, "domain": false, "labelFlush": false, "labelOverlap": false, "labelBound": false,
"labelFont": "DejaVu Sans", "labelFontSize": 21, "labelColor": "#111", "labelLineHeight": 25, "labelPadding": 19,
"titleFont": "DejaVu Sans", "titleFontSize": 21, "titleFontWeight": "normal", "titleColor": "#111", "titlePadding": 10,
"zindex": 1}},
"y": {"field": "h", "type": "quantitative",
"scale": {"domain": [0, 80], "nice": false},
"axis": {"title": "MIPNL1P_MIPLEV1BMDS_loc_1 [km]",
"values": [0, 10, 20, 30, 40, 50, 60, 70, 80],
"grid": true, "gridColor": "#000", "gridDash": [4, 3], "gridWidth": 1, "gridOpacity": 1,
"ticks": false, "domain": false, "labelFlush": true, "labelPadding": 9,
"labelFont": "DejaVu Sans", "labelFontSize": 21, "labelColor": "#111",
"titleFont": "DejaVu Sans", "titleFontSize": 21, "titleFontWeight": "normal", "titleColor": "#111", "titlePadding": 21,
"zindex": 1}},
"detail": [{"field": "k", "type": "nominal"}, {"field": "g", "type": "nominal"}]
}
},
{
"data": {"name": "dashes"},
"mark": {"type": "rule", "color": "#c21818", "strokeWidth": 3, "strokeCap": "round"},
"encoding": {
"x": {"field": "t", "type": "quantitative"},
"x2": {"field": "t2"},
"y": {"field": "h", "type": "quantitative"},
"y2": {"field": "h2"}
}
},
{
"data": {"name": "zeros"},
"mark": {"type": "point", "filled": true, "size": 10, "color": "#e08080", "opacity": 1},
"encoding": {
"x": {"field": "t", "type": "quantitative"},
"y": {"field": "h", "type": "quantitative"}
}
}
]
}
